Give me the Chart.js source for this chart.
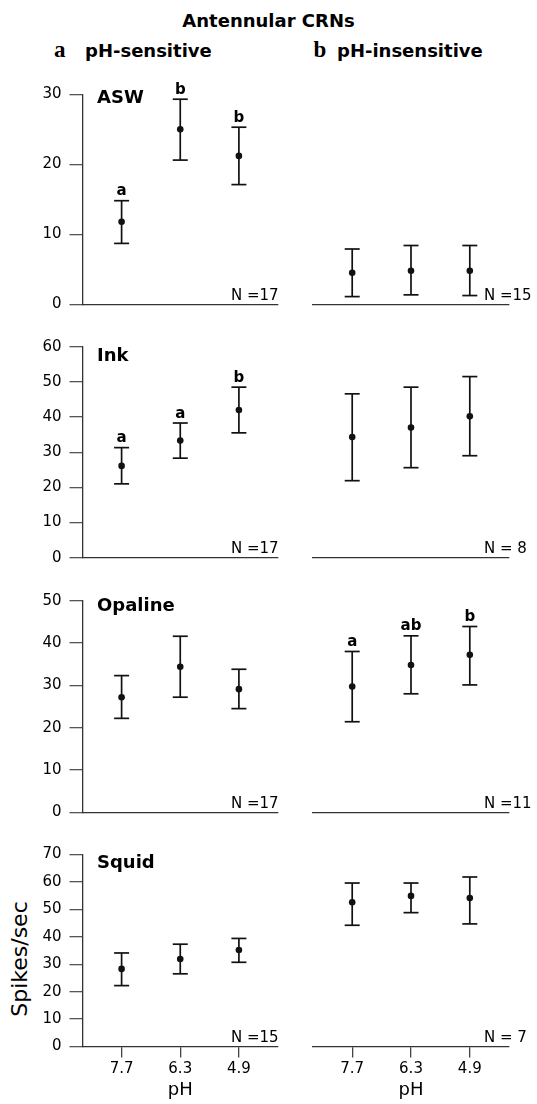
<!DOCTYPE html>
<html><head><meta charset="utf-8">
<script src="https://cdn.jsdelivr.net/npm/chart.js@4"></script>
<style>
html,body{margin:0;padding:0;background:#fff;}
#wrap{position:relative;width:537px;height:1104px;overflow:hidden;font-family:"DejaVu Sans",sans-serif;background:#fff;}
#wrap canvas{position:absolute;left:0;top:0;}
.t{position:absolute;white-space:nowrap;color:#000;line-height:1;}
.sf{font-family:"Liberation Serif",serif;font-weight:bold;font-size:23px;}
.bh{font-family:"DejaVu Sans",sans-serif;font-weight:bold;font-size:18px;}
</style></head><body>
<div id="wrap">
  <div class="t bh" style="left:0;width:537px;text-align:center;top:11.5px;">Antennular CRNs</div>
  <div class="t sf" style="left:54px;top:38px;">a</div>
  <div class="t bh" style="left:85px;top:42px;">pH-sensitive</div>
  <div class="t sf" style="left:313.5px;top:38px;">b</div>
  <div class="t bh" style="left:337px;top:42px;">pH-insensitive</div>
  <div class="t" style="left:20px;top:959px;font-size:22px;transform:translate(-50%,-50%) rotate(-90deg);">Spikes/sec</div>
</div>
<script>
// ---- data ----
const categories = ['7.7', '6.3', '4.9'];
const rowNames = ['ASW', 'Ink', 'Opaline', 'Squid'];
const rowMax = [30, 60, 50, 70];
const yStep = 10;

const aswSensMean = [11.8, 25.0, 21.2];
const aswSensLo   = [8.7, 20.6, 17.1];
const aswSensHi   = [14.8, 29.3, 25.3];
const aswInsMean  = [4.5, 4.8, 4.8];
const aswInsLo    = [1.1, 1.35, 1.25];
const aswInsHi    = [7.9, 8.4, 8.4];

const inkSensMean = [26.1, 33.3, 42.0];
const inkSensLo   = [21.0, 28.3, 35.5];
const inkSensHi   = [31.3, 38.3, 48.5];
const inkInsMean  = [34.3, 37.0, 40.2];
const inkInsLo    = [21.9, 25.6, 29.0];
const inkInsHi    = [46.6, 48.5, 51.5];

const opaSensMean = [27.2, 34.4, 29.1];
const opaSensLo   = [22.2, 27.2, 24.5];
const opaSensHi   = [32.3, 41.6, 33.8];
const opaInsMean  = [29.7, 34.8, 37.2];
const opaInsLo    = [21.4, 28.0, 30.1];
const opaInsHi    = [38.0, 41.7, 43.9];

const sqdSensMean = [28.3, 31.9, 35.2];
const sqdSensLo   = [22.2, 26.5, 30.7];
const sqdSensHi   = [34.1, 37.3, 39.4];
const sqdInsMean  = [52.6, 54.9, 54.1];
const sqdInsLo    = [44.2, 48.8, 44.7];
const sqdInsHi    = [59.6, 59.6, 61.8];

const aswSensLetters = ['a', 'b', 'b'];
const inkSensLetters = ['a', 'a', 'b'];
const opaInsLetters  = ['a', 'ab', 'b'];

const nSens = ['N =17', 'N =17', 'N =17', 'N =15'];
const nIns  = ['N =15', 'N = 8', 'N =11', 'N = 7'];

// ---- layout (page pixels) ----
const W = 537, H = 1104;
const ROW_TOP  = [94.3, 346.7, 600.7, 854.5];
const ROW_ZERO = [304.3, 557.7, 812.3, 1046.5];
const COL_LEFT = [82.5, 313];
const COL_RIGHT = [278, 509];
const TITLE_DY = [9, 14.3, 10.3, 13.5];
const N_DX = [148.5, 171];
const FONT = '"DejaVu Sans"';

const panels = [
  {row:0,col:0,mean:aswSensMean,lo:aswSensLo,hi:aswSensHi,letters:aswSensLetters},
  {row:0,col:1,mean:aswInsMean,lo:aswInsLo,hi:aswInsHi},
  {row:1,col:0,mean:inkSensMean,lo:inkSensLo,hi:inkSensHi,letters:inkSensLetters},
  {row:1,col:1,mean:inkInsMean,lo:inkInsLo,hi:inkInsHi},
  {row:2,col:0,mean:opaSensMean,lo:opaSensLo,hi:opaSensHi},
  {row:2,col:1,mean:opaInsMean,lo:opaInsLo,hi:opaInsHi,letters:opaInsLetters},
  {row:3,col:0,mean:sqdSensMean,lo:sqdSensLo,hi:sqdSensHi},
  {row:3,col:1,mean:sqdInsMean,lo:sqdInsLo,hi:sqdInsHi}
];

const wrap = document.getElementById('wrap');

function makePanel(p) {
  const canvas = document.createElement('canvas');
  canvas.width = W; canvas.height = H;
  canvas.style.width = W + 'px'; canvas.style.height = H + 'px';
  wrap.appendChild(canvas);
  const isBottom = p.row === 3;
  const isLeft = p.col === 0;
  const xH = isBottom ? 57.5 : 0;

  const datasets = [{
    type: 'scatter',
    data: p.mean.map((m, i) => ({x: i + 1, y: m})),
    pointRadius: 3.3, pointBackgroundColor: '#111', pointBorderWidth: 0,
    order: 0, clip: false
  }];
  p.lo.forEach((lo, i) => {
    datasets.push({
      type: 'line',
      data: [{x: i + 1, y: lo}, {x: i + 1, y: p.hi[i]}],
      borderColor: '#111', borderWidth: 1.7, showLine: true, fill: false,
      pointStyle: 'line', pointRadius: 7.5, pointBorderWidth: 1.7,
      pointBorderColor: '#111', order: 1, clip: false
    });
  });

  const annot = {
    id: 'annot',
    afterDraw(chart) {
      const {ctx, chartArea, scales} = chart;
      const x = scales.x, y = scales.y;
      ctx.save();
      ctx.fillStyle = '#000';
      ctx.textBaseline = 'alphabetic';
      if (p.letters) {
        ctx.font = 'bold 15px ' + FONT;
        ctx.textAlign = 'center';
        p.letters.forEach((l, i) => {
          ctx.fillText(l, x.getPixelForValue(i + 1), y.getPixelForValue(p.hi[i]) - 5.5);
        });
      }
      if (isLeft) {
        ctx.font = 'bold 18px ' + FONT;
        ctx.textAlign = 'left';
        ctx.fillText(rowNames[p.row], chartArea.left + 14.5, chartArea.top + TITLE_DY[p.row]);
      }
      ctx.font = '15px ' + FONT;
      ctx.textAlign = 'left';
      ctx.fillText(isLeft ? nSens[p.row] : nIns[p.row], chartArea.left + N_DX[p.col], chartArea.bottom - 4.5);
      ctx.restore();
    }
  };

  new Chart(canvas, {
    type: 'scatter',
    data: {datasets},
    options: {
      responsive: false, animation: false, events: [], devicePixelRatio: 1,
      layout: {padding: {
        left: isLeft ? 0 : COL_LEFT[1],
        right: W - COL_RIGHT[p.col],
        top: ROW_TOP[p.row],
        bottom: H - ROW_ZERO[p.row] - xH
      }},
      plugins: {legend: {display: false}, tooltip: {enabled: false}},
      scales: {
        x: {
          type: 'linear', min: 1 / 3, max: 11 / 3,
          afterFit: s => { s.height = xH; },
          afterBuildTicks: s => { s.ticks = categories.map((c, i) => ({value: i + 1})); },
          ticks: {display: isBottom, autoSkip: false, maxRotation: 0,
                  callback: v => categories[Math.round(v) - 1],
                  font: {family: 'DejaVu Sans', size: 15}, color: '#000', padding: 3},
          grid: {display: true, drawOnChartArea: false, drawTicks: isBottom, tickLength: 11,
                 color: '#444', lineWidth: 1.3},
          border: {display: true, color: '#333', width: 1.3},
          title: {display: isBottom, text: 'pH', color: '#000',
                  font: {family: 'DejaVu Sans', size: 18, lineHeight: 1.2},
                  padding: {top: 0, bottom: 3}}
        },
        y: {
          display: isLeft, min: 0, max: rowMax[p.row],
          afterFit: s => { s.width = isLeft ? COL_LEFT[0] : 0; },
          ticks: {stepSize: yStep, font: {family: 'DejaVu Sans', size: 15}, color: '#000', padding: 8},
          grid: {drawOnChartArea: false, drawTicks: true, tickLength: 13, color: '#555', lineWidth: 1.3},
          border: {display: true, color: '#333', width: 1.3}
        }
      }
    },
    plugins: [annot]
  });
}

panels.forEach(makePanel);
</script>
</body></html>
